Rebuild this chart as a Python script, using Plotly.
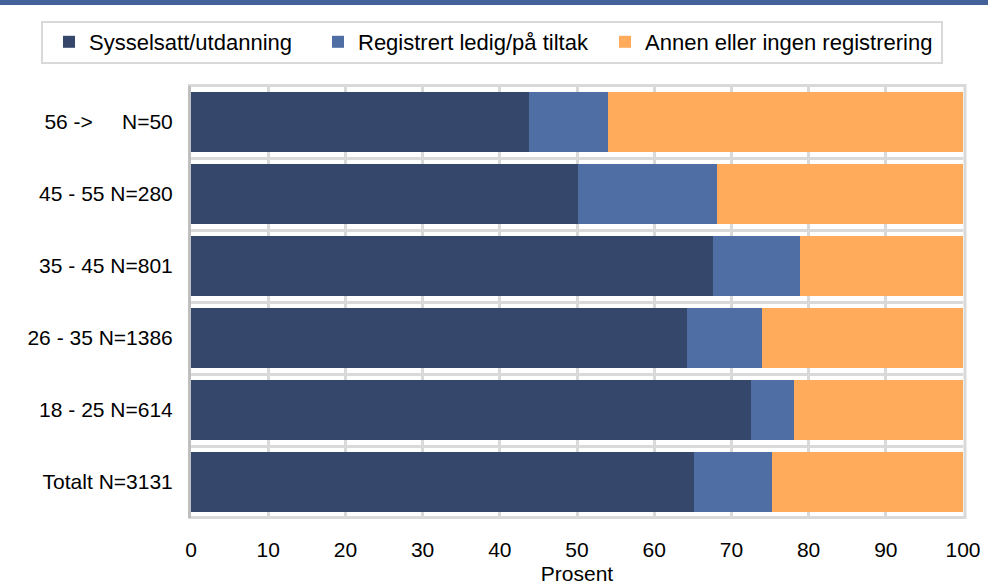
import plotly.graph_objects as go

categories = ["56 ->\u00a0\u00a0\u00a0\u00a0\u00a0N=50", "45 - 55 N=280", "35 - 45 N=801",
              "26 - 35 N=1386", "18 - 25 N=614", "Totalt N=3131"]
sysselsatt = [43.8, 50.1, 67.6, 64.3, 72.5, 65.1]
registrert = [10.2, 18.0, 11.3, 9.7, 5.6, 10.2]
annen = [46.0, 31.9, 21.1, 26.0, 21.9, 24.7]
series_names = ["Sysselsatt/utdanning", "Registrert ledig/på tiltak", "Annen eller ingen registrering"]
colors = ["#35486B", "#4F6EA3", "#FFAB5B"]
x_ticks = [0, 10, 20, 30, 40, 50, 60, 70, 80, 90, 100]

W, H = 988, 588
ML, MR, MT, MB = 191, 25, 86, 70
PW, PH = W - ML - MR, H - MT - MB

def px_x(p):
    return (p - ML) / PW

def px_y(p):
    return (H - MB - p) / PH

FONT = "Liberation Sans, Arial, sans-serif"

fig = go.Figure()
legend_ids = ["legend", "legend2", "legend3"]
for vals, name, col, lg in zip([sysselsatt, registrert, annen], series_names, colors, legend_ids):
    fig.add_trace(go.Bar(
        y=categories, x=vals, name=name, orientation="h",
        marker=dict(color=col, line=dict(width=0)),
        legend=lg,
    ))

legend_left_px = [49, 318, 605]
leg_common = dict(orientation="h", yanchor="middle", y=px_y(42), xanchor="left",
                  bgcolor="rgba(0,0,0,0)", borderwidth=0,
                  font=dict(family=FONT, size=22, color="#000000"))
fig.update_layout(
    legend=dict(x=px_x(legend_left_px[0]), **leg_common),
    legend2=dict(x=px_x(legend_left_px[1]), **leg_common),
    legend3=dict(x=px_x(legend_left_px[2]), **leg_common),
)

fig.update_layout(
    width=W, height=H,
    margin=dict(l=ML, r=MR, t=MT, b=MB, pad=0, autoexpand=False),
    barmode="stack", bargap=0.16,
    plot_bgcolor="white", paper_bgcolor="white",
    font=dict(family=FONT, size=21, color="#000000"),
    xaxis=dict(range=[0, 100], tickvals=x_ticks, ticktext=[str(v) for v in x_ticks],
               showgrid=True, gridcolor="#D9D9D9", gridwidth=3, zeroline=False,
               showline=False, ticks="", ticklabelstandoff=17, automargin=False,
               title=dict(text="Prosent", font=dict(family=FONT, size=21), standoff=6),
               tickfont=dict(family=FONT, size=21)),
    yaxis=dict(categoryorder="array", categoryarray=categories, autorange="reversed",
               tickson="boundaries", showgrid=True, gridcolor="#D9D9D9", gridwidth=3,
               showline=True, linecolor="#BFBFBF", linewidth=3, ticks="", automargin=False,
               ticklabelstandoff=11, tickfont=dict(family=FONT, size=21)),
    showlegend=True,
)

# plot frame
fig.add_shape(type="rect", xref="paper", yref="paper", x0=px_x(189.5), x1=px_x(965), y0=px_y(517.5), y1=px_y(85.5),
              line=dict(color="#D9D9D9", width=3), fillcolor="rgba(0,0,0,0)", layer="below")
# legend box
fig.add_shape(type="rect", xref="paper", yref="paper", x0=px_x(42), x1=px_x(942), y0=px_y(63), y1=px_y(22),
              line=dict(color="#D9D9D9", width=2), fillcolor="rgba(0,0,0,0)")
# top rule
fig.add_shape(type="line", xref="paper", yref="paper", x0=px_x(0), x1=px_x(988), y0=px_y(2.5), y1=px_y(2.5),
              line=dict(color="#44619A", width=5))

fig.write_html("out.html", config={"displayModeBar": False},
               post_script="document.body.style.margin='0px';document.body.style.overflow='hidden';")
